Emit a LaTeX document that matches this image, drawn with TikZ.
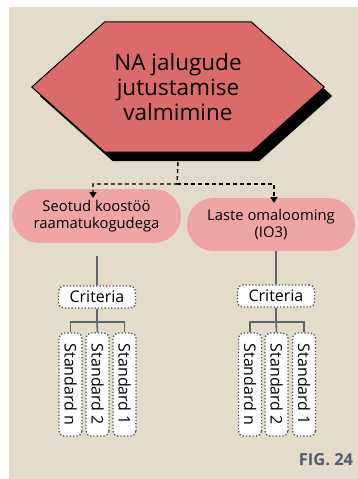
\documentclass[tikz,border=0pt]{standalone}
\usepackage{fontspec}
\setmainfont{Open Sans}
\usetikzlibrary{arrows.meta,shapes.misc,calc}

\definecolor{paper}{HTML}{E3DCCA}
\definecolor{hexred}{HTML}{DB6A6A}
\definecolor{pillpink}{HTML}{F0A5A5}
\definecolor{slate}{HTML}{5F6471}
\definecolor{dotgray}{HTML}{4A4F5E}
\definecolor{figgray}{HTML}{535A6B}

\tikzset{
  hexcore/.style={minimum width=146pt, minimum height=130pt, inner sep=0pt,
    align=center, font=\fontsize{22.5}{25}\selectfont},
  pill/.style={rounded rectangle, fill=pillpink, inner sep=0pt, align=center,
    font=\fontsize{14.8}{17.5}\selectfont},
  dotbox/.style={draw=dotgray, dotted, line width=1.3pt, fill=white,
    rounded corners=5pt, inner sep=0pt, font=\fontsize{16}{18}\selectfont},
  critbox/.style={dotbox, minimum width=77pt, minimum height=22pt},
  stdbox/.style={dotbox, rotate=-90, minimum width=103pt, minimum height=23pt},
  flowline/.style={dashed, dash pattern=on 4pt off 3pt, line width=1.4pt,
    -{Triangle[length=6pt,width=7pt]}},
  treeline/.style={draw=slate, line width=1.6pt},
}

% outline of the hexagon around node hex, moved by the offset #1
\newcommand\hexoutline[1]{%
  ($(hex.north west)+#1$) -- ($(hex.north east)+#1$)
  -- ($(hex.east)+(73,0)+#1$) -- ($(hex.south east)+#1$)
  -- ($(hex.south west)+#1$) -- ($(hex.west)+(-73,0)+#1$) -- cycle}

\begin{document}
\begin{tikzpicture}[x=1pt, y=-1pt]
  \path[use as bounding box] (0,0) rectangle (358,479);
  \fill[paper] (9,7) rectangle (358,479);

  % main goal hexagon with its drop shadow
  \path (178,87) node[hexcore] (hex) {};
  \fill[black] \hexoutline{(8,9)};
  \fill[hexred, draw=black, line width=1pt] \hexoutline{(0,0)};
  \node[hexcore] at (hex.center) {NA jalugude\\jutustamise\\valmimine};

  % two branches
  \node[pill, minimum width=169pt, minimum height=54pt] (p1) at (96.5,216)
    {Seotud koostöö\\raamatukogudega};
  \node[pill, minimum width=168pt, minimum height=53pt] (p2) at (271,224.5)
    {Laste omalooming\\(IO3)};

  \coordinate (split) at (177,184);
  \coordinate (endA) at (93,198);
  \coordinate (endB) at (274,203);
  \draw[flowline] ($(hex.south)+(0,10)$) -- (split) -| (endA);
  \draw[flowline] (split) -| (endB);

  % criteria boxes
  \node[critbox] (c1) at (97,297) {Criteria};
  \node[critbox] (c2) at (276,296) {Criteria};

  \draw[treeline] ($(p1.south -| c1.north)+(0,13)$) -- (c1.north);
  \draw[treeline] (p2.south -| c2.north) -- (c2.north);

  % standards, left group
  \node[stdbox] (a3) at (70.5,384.5) {Standard n};
  \node[stdbox] (a2) at (97.5,384.5) {Standard 2};
  \node[stdbox] (a1) at (124.5,384.5) {Standard 1};
  \coordinate (barA) at (97,322);
  \draw[treeline] (c1.south) -- (barA);
  \draw[treeline] (a3.west) |- (barA) -| (a1.west);
  \draw[treeline] (barA) -- (a2.west);

  % standards, right group
  \node[stdbox] (b3) at (250,384.5) {Standard n};
  \node[stdbox] (b2) at (276.5,384.5) {Standard 2};
  \node[stdbox] (b1) at (304,384.5) {Standard 1};
  \coordinate (barB) at (276,322);
  \draw[treeline] (c2.south) -- (barB);
  \draw[treeline] (b3.west) |- (barB) -| (b1.west);
  \draw[treeline] (barB) -- (b2.west);

  \node[text=figgray, font=\fontsize{16.5}{18}\bfseries\selectfont] (fig)
    at (326,460) {FIG. 24};
\end{tikzpicture}
\end{document}
